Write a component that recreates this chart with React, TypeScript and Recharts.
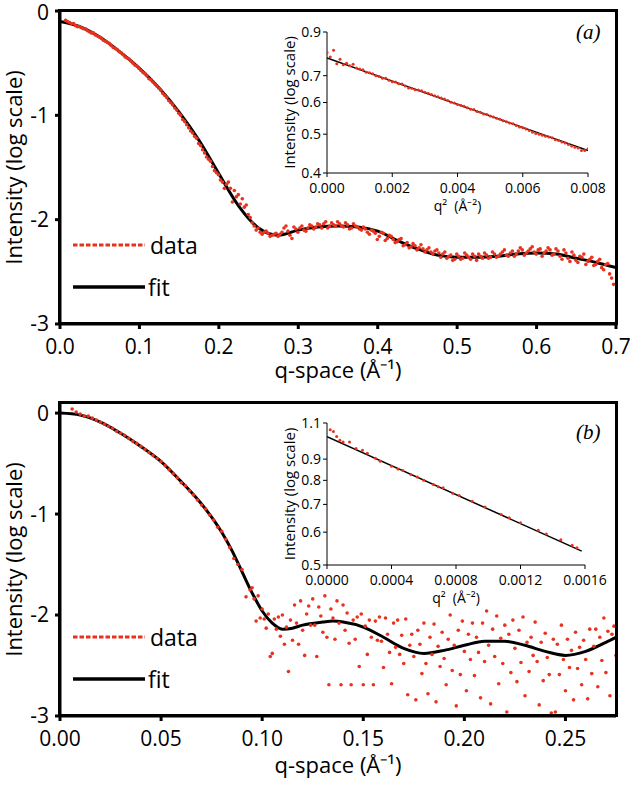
import React from 'react';
import { ComposedChart, Line, Scatter, XAxis, YAxis, Legend, Label } from 'recharts';

const RED = '#e8321e';
const FONT = '"Open Sans", sans-serif';

// ---- panel (a) ----
const fitAq = [0, 0.025, 0.05, 0.075, 0.1, 0.125, 0.15, 0.175, 0.2, 0.225, 0.25, 0.275, 0.3, 0.325, 0.35, 0.375, 0.4, 0.425, 0.45, 0.475, 0.5, 0.525, 0.55, 0.575, 0.6, 0.625, 0.65, 0.675, 0.7];
const fitAv = [-0.10, -0.15, -0.25, -0.39, -0.55, -0.74, -0.97, -1.24, -1.56, -1.87, -2.08, -2.15, -2.10, -2.07, -2.06, -2.07, -2.11, -2.20, -2.28, -2.34, -2.36, -2.36, -2.35, -2.33, -2.32, -2.33, -2.37, -2.41, -2.46];

// measured points, q = 0.007 + 0.005 * i
const dataAv = [
  -0.09, -0.11, -0.12, -0.15, -0.16, -0.17, -0.20, -0.21, -0.24,
  -0.26, -0.29, -0.31, -0.35, -0.37, -0.40, -0.44, -0.46, -0.50, -0.53,
  -0.57, -0.60, -0.65, -0.68, -0.72, -0.76, -0.81, -0.86, -0.90, -0.95,
  -1.00, -1.06, -1.12, -1.17, -1.22, -1.29, -1.36, -1.42, -1.49, -1.55,
  -1.62, -1.70, -1.64, -1.83, -1.78, -1.85, -1.88, -1.95, -2.03, -2.10,
  -2.12, -2.12, -2.13, -2.15, -2.13, -2.14, -2.08, -2.11, -2.18, -2.09,
  -2.08, -2.10, -2.08, -2.06, -2.07, -2.05, -2.04, -2.08, -2.03, -2.06,
  -2.04, -2.07, -2.05, -2.08, -2.06, -2.09, -2.07, -2.12, -2.10, -2.13,
  -2.16, -2.13, -2.18, -2.16, -2.22, -2.19, -2.25, -2.22, -2.26, -2.25,
  -2.27, -2.28, -2.29, -2.31, -2.30, -2.32, -2.33, -2.37, -2.34, -2.38,
  -2.35, -2.37, -2.34, -2.38, -2.35, -2.33, -2.37, -2.34, -2.36, -2.33,
  -2.35, -2.31, -2.34, -2.32, -2.35, -2.30, -2.29, -2.32, -2.28, -2.31,
  -2.29, -2.35, -2.30, -2.29, -2.33, -2.30, -2.38, -2.32, -2.40, -2.34,
  -2.41, -2.36, -2.43, -2.38, -2.44, -2.40, -2.46, -2.43, -2.52, -2.62,
];
// interleaved points, q = 0.0095 + 0.005 * i
const dataAv2 = [
  -0.10, -0.12, -0.14, -0.15, -0.17, -0.19, -0.21, -0.23, -0.25, -0.28,
  -0.30, -0.33, -0.36, -0.39, -0.42, -0.45, -0.48, -0.52, -0.55, -0.59,
  -0.62, -0.66, -0.70, -0.74, -0.79, -0.83, -0.88, -0.93, -0.98, -1.04,
  -1.09, -1.15, -1.20, -1.27, -1.33, -1.40, -1.44, -1.53, -1.57, -1.64,
  -1.66, -1.70, -1.72, -1.76, -1.80, -1.86, -1.98, -2.06, -2.08, -2.14,
  -2.11, -2.16, -2.14, -2.16, -2.12, -2.06, -2.15, -2.07, -2.12, -2.06,
  -2.11, -2.05, -2.09, -2.04, -2.08, -2.02, -2.06, -2.05, -2.02, -2.06,
  -2.03, -2.09, -2.04, -2.07, -2.10, -2.09, -2.14, -2.11, -2.19, -2.12,
  -2.20, -2.15, -2.19, -2.21, -2.18, -2.24, -2.27, -2.23, -2.29, -2.24,
  -2.31, -2.27, -2.33, -2.29, -2.36, -2.31, -2.35, -2.39, -2.33, -2.38,
  -2.32, -2.36, -2.33, -2.39, -2.35, -2.32, -2.37, -2.31, -2.36, -2.33,
  -2.29, -2.35, -2.30, -2.33, -2.27, -2.34, -2.30, -2.26, -2.33, -2.28,
  -2.32, -2.27, -2.34, -2.28, -2.35, -2.29, -2.37, -2.31, -2.39, -2.35,
  -2.33, -2.40, -2.36, -2.43, -2.38, -2.48, -2.42, -2.56,
];

// inset (a): q^2 = 0.0001 * i
const insetAv = [
  0.80, 0.78, 0.81, 0.75, 0.77, 0.745, 0.752, 0.741, 0.748, 0.732,
  0.728, 0.724, 0.714, 0.712, 0.708, 0.700, 0.697, 0.690, 0.690, 0.682,
  0.676, 0.675, 0.668, 0.667, 0.660, 0.652, 0.651, 0.646, 0.645, 0.642,
  0.636, 0.633, 0.628, 0.624, 0.620, 0.616, 0.612, 0.607, 0.601, 0.598,
  0.593, 0.591, 0.587, 0.582, 0.577, 0.576, 0.570, 0.567, 0.562, 0.560,
  0.555, 0.552, 0.548, 0.545, 0.540, 0.537, 0.533, 0.531, 0.526, 0.521,
  0.519, 0.515, 0.511, 0.506, 0.502, 0.500, 0.497, 0.494, 0.492, 0.490,
  0.484, 0.482, 0.478, 0.475, 0.471, 0.467, 0.464, 0.462, 0.455, 0.455,
  0.460,
];
const insetFitAq = [0, 0.008];
const insetFitAv = [0.775, 0.455];

// ---- panel (b) ----
const fitBq = [0, 0.01, 0.02, 0.03, 0.04, 0.05, 0.06, 0.07, 0.08, 0.085, 0.09, 0.095, 0.1, 0.105, 0.11, 0.115, 0.12, 0.13, 0.135, 0.14, 0.15, 0.16, 0.17, 0.18, 0.19, 0.2, 0.21, 0.22, 0.23, 0.24, 0.25, 0.26, 0.27, 0.275];
const fitBv = [0.00, -0.02, -0.09, -0.20, -0.33, -0.48, -0.68, -0.90, -1.18, -1.36, -1.57, -1.78, -1.96, -2.08, -2.14, -2.13, -2.10, -2.07, -2.06, -2.07, -2.12, -2.22, -2.33, -2.38, -2.35, -2.30, -2.26, -2.26, -2.30, -2.36, -2.40, -2.36, -2.27, -2.22];

// q = 0.006 + 0.002 * i
const dataBLowv = [
  0.04, 0.01, -0.01, -0.03, -0.03, -0.05, -0.07, -0.09, -0.11, -0.13,
  -0.15, -0.18, -0.20, -0.22, -0.25, -0.28, -0.30, -0.33, -0.36, -0.39,
  -0.42, -0.45, -0.48, -0.52, -0.56, -0.60, -0.64, -0.69, -0.72, -0.77,
  -0.81, -0.86, -0.91, -0.95, -1.01, -1.06, -1.13, -1.17, -1.25, -1.33,
  -1.44, -1.50, -1.55, -1.82, -1.75,
];
// q = 0.095 + 0.001 * i
const dataBHighv = [
  -1.73, -1.84, -2.06, -1.81, -2.03, -1.94, -2.04, -2.13, -1.99, -2.41,
  -2.38, -2.04, -2.14, -2.02, -2.21, -2.00, -2.29, -2.12, -2.56, -2.05,
  -2.25, -1.90, -2.08, -2.29, -1.86, -2.15, -2.40, -1.99, -1.91, -2.10,
  -1.84, -2.10, -2.41, -1.92, -2.01, -2.17, -1.81, -2.22, -2.69, -1.94,
  -2.03, -2.24, -1.86, -2.08, -2.69, -1.90, -2.15, -1.98, -2.28, -2.69,
  -2.05, -2.24, -2.02, -2.51, -1.99, -2.69, -2.11, -2.39, -2.05, -2.22,
  -2.69, -2.06, -2.25, -2.02, -2.26, -2.52, -2.03, -2.19, -2.37, -2.68,
  -2.08, -2.32, -2.05, -2.39, -2.20, -2.48, -2.04, -2.79, -2.30, -2.19,
  -2.41, -2.84, -2.15, -2.29, -2.58, -2.08, -2.48, -2.78, -2.22, -2.39,
  -2.09, -2.86, -2.31, -2.51, -2.17, -2.43, -2.69, -2.24, -2.00, -2.55,
  -2.30, -2.90, -2.15, -2.59, -2.06, -2.36, -2.75, -2.19, -2.44, -2.08,
  -2.60, -2.22, -2.37, -2.82, -2.08, -2.46, -1.96, -2.30, -2.88, -2.14,
  -2.41, -2.01, -2.68, -2.23, -2.48, -2.10, -2.96, -2.19, -2.57, -2.05,
  -2.33, -2.66, -2.15, -2.47, -2.02, -2.80, -2.27, -2.56, -2.22, -2.40,
  -2.07, -2.46, -2.89, -2.27, -2.65, -2.18, -2.42, -2.59, -2.97, -2.24,
  -2.96, -2.29, -2.59, -2.10, -2.44, -2.75, -2.24, -2.52, -2.35, -2.84,
  -2.17, -2.53, -2.32, -2.69, -2.25, -2.44, -2.83, -2.14, -2.58, -2.31,
  -2.14, -2.71, -2.22, -2.45, -2.03, -2.57, -2.16, -2.80, -2.19, -2.11,
  -2.40,
];

const insetBq = [0.00002, 0.00004, 0.00006, 0.00008, 0.0001, 0.00014, 0.00018, 0.00022, 0.00025, 0.0003, 0.00033, 0.0004, 0.00044, 0.00047, 0.00052, 0.00056, 0.0006, 0.00066, 0.00069, 0.00072, 0.00078, 0.00082, 0.0009, 0.00098, 0.00108, 0.00113, 0.0012, 0.00131, 0.00136, 0.00145, 0.00152, 0.00155];
const insetBv = [1.06, 1.05, 1.02, 1.00, 0.99, 0.99, 0.955, 0.945, 0.93, 0.905, 0.89, 0.865, 0.852, 0.845, 0.826, 0.815, 0.80, 0.782, 0.772, 0.768, 0.745, 0.735, 0.712, 0.690, 0.662, 0.650, 0.632, 0.606, 0.594, 0.575, 0.558, 0.55];
const insetFitBq = [0, 0.00158];
const insetFitBv = [1.02, 0.54];

// ticks
const mainYTicks = [-3, -2, -1, 0];
const xTicksA = [0, 0.1, 0.2, 0.3, 0.4, 0.5, 0.6, 0.7];
const xTicksB = [0, 0.05, 0.1, 0.15, 0.2, 0.25];
const insetXTicksA = [0, 0.002, 0.004, 0.006, 0.008];
const insetYTicksA = [0.4, 0.5, 0.6, 0.7, 0.8, 0.9];
const insetXTicksB = [0, 0.0004, 0.0008, 0.0012, 0.0016];
const insetYTicksB = [0.5, 0.6, 0.7, 0.8, 0.9, 1.0, 1.1];

const zip = (q: number[], v: number[]) => q.map((x, i) => ({ q: x, v: v[i] }));
const grid = (start: number, step: number, v: number[]) =>
  v.map((y, i) => ({ q: +(start + step * i).toFixed(5), v: y }));

const fitA = zip(fitAq, fitAv);
const dataA = [...grid(0.007, 0.005, dataAv), ...grid(0.0095, 0.005, dataAv2)];
const insetDataA = grid(0, 0.0001, insetAv);
const insetFitA = zip(insetFitAq, insetFitAv);
const fitB = zip(fitBq, fitBv);
const dataB = [...grid(0.006, 0.002, dataBLowv), ...grid(0.095, 0.001, dataBHighv)];
const insetDataB = zip(insetBq, insetBv);
const insetFitB = zip(insetFitBq, insetFitBv);

const dot = (r: number) => (p: any) => <circle cx={p.cx} cy={p.cy} r={r} fill={RED} />;

const LegendBox = () => (
  <div style={{ fontFamily: FONT, fontSize: 23, color: '#000', lineHeight: 1 }}>
    <div style={{ display: 'flex', alignItems: 'center', height: 42 }}>
      <svg width={72} height={10}>
        <line x1={0} y1={5} x2={72} y2={5} stroke={RED} strokeWidth={3} strokeDasharray="4.5 2" />
      </svg>
      <span style={{ marginLeft: 5 }}>data</span>
    </div>
    <div style={{ display: 'flex', alignItems: 'center', height: 42 }}>
      <svg width={72} height={10}>
        <line x1={0} y1={5} x2={72} y2={5} stroke="#000" strokeWidth={3.5} />
      </svg>
      <span style={{ marginLeft: 3 }}>fit</span>
    </div>
  </div>
);

const vTitle = (text: string, x: number, size: number) => (props: any) => {
  const vb = props.viewBox || {};
  const y = vb.y + vb.height / 2;
  return (
    <text x={x} y={y} transform={`rotate(-90 ${x} ${y})`} textAnchor="middle" dominantBaseline="central"
      fontFamily={FONT} fontSize={size} fill="#000">{text}</text>
  );
};

interface MainProps {
  fit: any[]; data: any[]; xDomain: number[]; xTicks: number[]; yDomain: number[];
  digits: number; height: number; top: number; xTitleOffset: number; legendTop: number;
}

const MainPanel = ({ fit, data, xDomain, xTicks, yDomain, digits, height, top, xTitleOffset, legendTop }: MainProps) => {
  const xAxisH = height - top - 313;
  const heavy = { stroke: '#000', strokeWidth: 3 };
  const tick = { fill: '#000', stroke: 'none', fontSize: 21, fontFamily: FONT };
  return (
    <div style={{ position: 'relative', width: 630, height }}>
      <ComposedChart width={630} height={height} margin={{ top, right: 14, left: 0, bottom: 0 }}>
        <XAxis dataKey="q" type="number" domain={xDomain} ticks={xTicks} allowDataOverflow height={xAxisH}
          axisLine={heavy} tickLine={heavy} tickSize={5} tickMargin={10} tick={tick}
          tickFormatter={(v: number) => v.toFixed(digits)}>
          <Label value="q-space (Å⁻¹)" position="insideBottom" offset={xTitleOffset}
            style={{ fontFamily: FONT, fontSize: 22, fill: '#000', stroke: 'none' }} />
        </XAxis>
        <YAxis dataKey="v" type="number" domain={yDomain} ticks={mainYTicks} allowDataOverflow width={60}
          axisLine={heavy} tickLine={heavy} tickSize={5} tickMargin={6} tick={tick}>
          <Label content={vTitle('Intensity (log scale)', 13, 22)} />
        </YAxis>
        <Scatter data={data} dataKey="v" shape={dot(1.8)} isAnimationActive={false} />
        <Line data={fit} dataKey="v" type="monotone" stroke="#000" strokeWidth={3} dot={false} isAnimationActive={false} />
        <Legend layout="horizontal" align="center" verticalAlign="middle" content={() => <LegendBox />}
          wrapperStyle={{ top: legendTop, left: 73, width: 'auto' }} />
      </ComposedChart>
      {/* plot frame */}
      <div style={{
        position: 'absolute', left: 58, top: top - 2, width: 560, height: 316,
        border: '3px solid #000', boxSizing: 'border-box', pointerEvents: 'none',
      }} />
    </div>
  );
};

interface InsetProps {
  fit: any[]; data: any[]; xDomain: number[]; xTicks: number[]; xDigits: number;
  yDomain: number[]; yTicks: number[]; top: number; right: number; xAxisH: number; xTitleOffset: number;
}

const Inset = ({ fit, data, xDomain, xTicks, xDigits, yDomain, yTicks, top, right, xAxisH, xTitleOffset }: InsetProps) => {
  const axis = { stroke: '#000', strokeWidth: 1 };
  const tick = { fill: '#000', stroke: 'none', fontSize: 14, fontFamily: FONT };
  return (
    <ComposedChart width={360} height={200} margin={{ top, right, left: 0, bottom: 0 }}>
      <XAxis dataKey="q" type="number" domain={xDomain} ticks={xTicks} allowDataOverflow height={xAxisH}
        axisLine={axis} tickLine={axis} tickSize={4} tickMargin={6} tick={tick}
        tickFormatter={(v: number) => v.toFixed(xDigits)}>
        <Label value={'q²\u00a0 (Å⁻²)'} position="insideBottom" offset={xTitleOffset}
          style={{ fontFamily: FONT, fontSize: 14, fill: '#000', stroke: 'none' }} />
      </XAxis>
      <YAxis dataKey="v" type="number" scale="log" domain={yDomain} ticks={yTicks} allowDataOverflow width={57}
        axisLine={axis} tickLine={axis} tickSize={4} tickMargin={2} tick={tick}
        tickFormatter={(v: number) => v.toFixed(1)}>
        <Label content={vTitle('Intensity (log scale)', 19, 15)} />
      </YAxis>
      <Scatter data={data} dataKey="v" shape={dot(1.5)} isAnimationActive={false} />
      <Line data={fit} dataKey="v" type="linear" stroke="#000" strokeWidth={1.5} dot={false} isAnimationActive={false} />
    </ComposedChart>
  );
};

const panelTag: React.CSSProperties = {
  position: 'absolute', left: 576, fontFamily: '"Liberation Serif", serif', fontStyle: 'italic',
  fontSize: 21, lineHeight: 1, color: '#000',
};

export default function App() {
  return (
    <div style={{ position: 'absolute', left: 0, top: 0, width: 630, height: 785, background: '#fff', overflow: 'hidden' }}>
      <div style={{ position: 'absolute', left: 0, top: 0 }}>
        <MainPanel fit={fitA} data={dataA} xDomain={[0, 0.7]} xTicks={xTicksA} yDomain={[-3, 0]} digits={1}
          height={390} top={11} xTitleOffset={12} legendTop={224} />
      </div>
      <div style={{ position: 'absolute', left: 270, top: 20 }}>
        <Inset fit={insetFitA} data={insetDataA} xDomain={[0, 0.008]} xTicks={insetXTicksA} xDigits={3}
          yDomain={[0.4, 0.9]} yTicks={insetYTicksA} top={12} right={42} xAxisH={47} xTitleOffset={9} />
      </div>
      <div style={{ ...panelTag, top: 22 }}>(a)</div>

      <div style={{ position: 'absolute', left: 0, top: 390 }}>
        <MainPanel fit={fitB} data={dataB} xDomain={[0, 0.275]} xTicks={xTicksB} yDomain={[-3, 0.1]} digits={2}
          height={395} top={13} xTitleOffset={12} legendTop={226} />
      </div>
      <div style={{ position: 'absolute', left: 270, top: 410 }}>
        <Inset fit={insetFitB} data={insetDataB} xDomain={[0, 0.0016]} xTicks={insetXTicksB} xDigits={4}
          yDomain={[0.5, 1.1]} yTicks={insetYTicksB} top={13} right={45} xAxisH={45} xTitleOffset={7} />
      </div>
      <div style={{ ...panelTag, top: 422 }}>(b)</div>
    </div>
  );
}
